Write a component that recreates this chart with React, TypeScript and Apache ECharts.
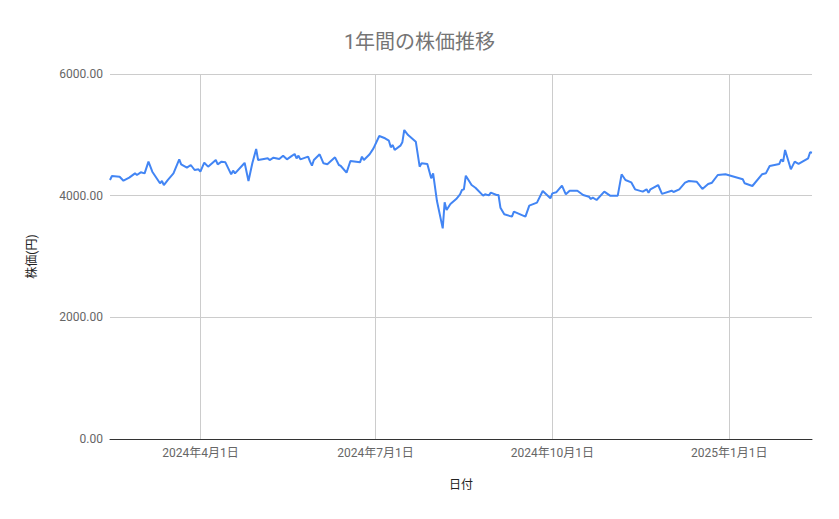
import React, { useEffect, useRef } from "react";
import * as echarts from "echarts";

const TITLE = "1年間の株価推移";
const X_NAME = "日付";
const Y_NAME = "株価(円)";

const dates: string[] = [
  "2024-02-14", "2024-02-15", "2024-02-19", "2024-02-21", "2024-02-24", "2024-02-27", "2024-02-28",
  "2024-03-01", "2024-03-03", "2024-03-05", "2024-03-07", "2024-03-11", "2024-03-12", "2024-03-13",
  "2024-03-15", "2024-03-18", "2024-03-21", "2024-03-22", "2024-03-25", "2024-03-27", "2024-03-29",
  "2024-03-31", "2024-04-01", "2024-04-03", "2024-04-05", "2024-04-09", "2024-04-10", "2024-04-12",
  "2024-04-14", "2024-04-17", "2024-04-18", "2024-04-19", "2024-04-23", "2024-04-24", "2024-04-26",
  "2024-04-28", "2024-04-30", "2024-05-01", "2024-05-04", "2024-05-06", "2024-05-07", "2024-05-09",
  "2024-05-12", "2024-05-14", "2024-05-16", "2024-05-18", "2024-05-20", "2024-05-21", "2024-05-22",
  "2024-05-23", "2024-05-27", "2024-05-28", "2024-05-29", "2024-05-30", "2024-06-02", "2024-06-04",
  "2024-06-06", "2024-06-10", "2024-06-12", "2024-06-13", "2024-06-16", "2024-06-18", "2024-06-23",
  "2024-06-24", "2024-06-25", "2024-06-28", "2024-06-30", "2024-07-03", "2024-07-06", "2024-07-08",
  "2024-07-09", "2024-07-10", "2024-07-11", "2024-07-14", "2024-07-15", "2024-07-16", "2024-07-18",
  "2024-07-22", "2024-07-24", "2024-07-25", "2024-07-28", "2024-07-30", "2024-07-31", "2024-08-02",
  "2024-08-05", "2024-08-06", "2024-08-07", "2024-08-09", "2024-08-12", "2024-08-14", "2024-08-15",
  "2024-08-16", "2024-08-17", "2024-08-20", "2024-08-22", "2024-08-26", "2024-08-27", "2024-08-29",
  "2024-08-30", "2024-09-02", "2024-09-03", "2024-09-04", "2024-09-06", "2024-09-10", "2024-09-11",
  "2024-09-17", "2024-09-19", "2024-09-23", "2024-09-26", "2024-09-30", "2024-10-01", "2024-10-03",
  "2024-10-06", "2024-10-08", "2024-10-10", "2024-10-14", "2024-10-17", "2024-10-20", "2024-10-21",
  "2024-10-22", "2024-10-24", "2024-10-28", "2024-10-31", "2024-11-04", "2024-11-06", "2024-11-08",
  "2024-11-11", "2024-11-13", "2024-11-17", "2024-11-19", "2024-11-20", "2024-11-21", "2024-11-25",
  "2024-11-27", "2024-12-02", "2024-12-03", "2024-12-06", "2024-12-09", "2024-12-11", "2024-12-15",
  "2024-12-18", "2024-12-21", "2024-12-23", "2024-12-26", "2024-12-30", "2025-01-08", "2025-01-09",
  "2025-01-13", "2025-01-18", "2025-01-20", "2025-01-22", "2025-01-27", "2025-01-28", "2025-01-29",
  "2025-01-30", "2025-02-02", "2025-02-04", "2025-02-06", "2025-02-11", "2025-02-12", "2025-02-13",
];

const prices: number[] = [
  4257, 4323, 4312, 4246, 4296, 4367, 4340,
  4384, 4367, 4559, 4394, 4203, 4241, 4175,
  4257, 4367, 4598, 4515, 4460, 4504, 4422,
  4433, 4394, 4542, 4477, 4586, 4515, 4559,
  4548, 4351, 4411, 4367, 4504, 4540, 4241,
  4532, 4767, 4586, 4603, 4614, 4586, 4624,
  4603, 4657, 4597, 4641, 4685, 4614, 4657,
  4597, 4641, 4559, 4493, 4586, 4680, 4532,
  4515, 4630, 4504, 4488, 4378, 4570, 4548,
  4641, 4586, 4680, 4778, 4981, 4943, 4904,
  4795, 4833, 4751, 4822, 4877, 5079, 4997,
  4887, 4477, 4532, 4521, 4285, 4367, 3912,
  3463, 3891, 3764, 3863, 3945, 4022, 4093,
  4104, 4329, 4175, 4131, 4000, 4022, 4005,
  4049, 4011, 4011, 3803, 3694, 3655, 3737,
  3655, 3836, 3885, 4077, 3956, 4038, 4055,
  4164, 4022, 4082, 4082, 4011, 3983, 3945,
  3967, 3929, 4066, 4000, 4000, 4351, 4257,
  4219, 4104, 4066, 4104, 4049, 4104, 4175,
  4030, 4082, 4060, 4104, 4213, 4241, 4230,
  4110, 4192, 4213, 4340, 4351, 4269, 4203,
  4159, 4351, 4367, 4488, 4521, 4598, 4559,
  4751, 4433, 4559, 4521, 4614, 4713, 4705,
];

const xTicks: string[] = ["2024-04-01", "2024-07-01", "2024-10-01", "2025-01-01"];
const yTicks: number[] = [0, 2000, 4000, 6000];

const FONT = "Roboto, 'Noto Sans CJK JP', sans-serif";

function toTime(s: string): number {
  const [y, m, d] = s.split("-").map(Number);
  return new Date(y, m - 1, d).getTime();
}

export default function App() {
  const ref = useRef<HTMLDivElement>(null);

  useEffect(() => {
    document.body.style.margin = "0";
    if (!ref.current) return;
    const chart = echarts.init(ref.current, null, { renderer: "svg" });
    const data = dates.map((d, i) => [toTime(d), prices[i]]);
    const tickVals = xTicks.map(toTime);
    chart.setOption({
      animation: false,
      backgroundColor: "#ffffff",
      textStyle: { fontFamily: FONT },
      title: {
        text: TITLE,
        left: "center",
        top: 27,
        textStyle: { fontSize: 20, fontWeight: "normal", color: "#757575", fontFamily: FONT },
      },
      grid: { left: 110, right: 27, top: 74, bottom: 80, containLabel: false, outerBoundsMode: "none" },
      xAxis: {
        type: "value",
        min: toTime(dates[0]),
        max: toTime(dates[dates.length - 1]),
        scale: true,
        name: X_NAME,
        nameLocation: "middle",
        nameGap: 40,
        nameTextStyle: { fontSize: 12, color: "#222222", fontFamily: FONT },
        axisLine: { show: true, onZero: false, lineStyle: { color: "#333333", width: 1 } },
        axisTick: { show: false, customValues: tickVals },
        axisLabel: {
          customValues: tickVals,
          margin: 8,
          fontSize: 12,
          color: "#666666",
          fontFamily: FONT,
          showMinLabel: true,
          showMaxLabel: true,
          hideOverlap: false,
          formatter: (v: number) => {
            const d = new Date(v);
            return `${d.getFullYear()}年${d.getMonth() + 1}月${d.getDate()}日`;
          },
        },
        splitLine: { show: true, lineStyle: { color: "#cccccc", width: 1 } },
      },
      yAxis: {
        type: "value",
        min: yTicks[0],
        max: yTicks[yTicks.length - 1],
        interval: 2000,
        name: Y_NAME,
        nameLocation: "middle",
        nameGap: 72,
        nameTextStyle: { fontSize: 12, color: "#222222", fontFamily: FONT },
        axisLine: { show: false },
        axisTick: { show: false },
        axisLabel: {
          margin: 7,
          fontSize: 12,
          color: "#666666",
          fontFamily: FONT,
          formatter: (v: number) => v.toFixed(2),
        },
        splitLine: { show: true, lineStyle: { color: "#cccccc", width: 1 } },
      },
      series: [
        {
          type: "line",
          data,
          showSymbol: false,
          symbol: "none",
          smooth: false,
          lineStyle: { color: "#4285f4", width: 2 },
          itemStyle: { color: "#4285f4" },
        },
      ],
    });
    return () => chart.dispose();
  }, []);

  return <div ref={ref} style={{ width: 839, height: 519 }} />;
}
